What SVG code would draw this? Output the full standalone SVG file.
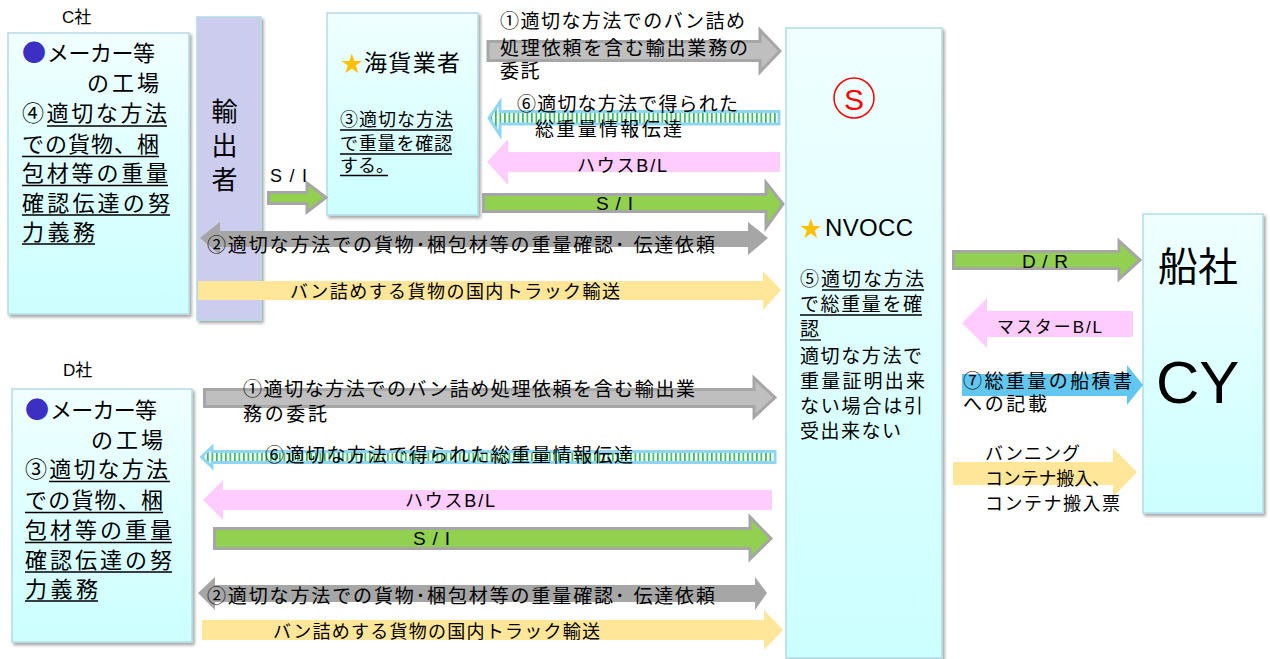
<svg xmlns="http://www.w3.org/2000/svg" width="1270" height="659" viewBox="0 0 1270 659">
<style>
.t{font-family:'Liberation Sans','Noto Sans CJK JP',sans-serif;fill:#000}
.j{font-family:'Noto Sans CJK JP','Liberation Sans',sans-serif}
.box{fill:url(#boxg);stroke:#b4dbe6;stroke-width:1.5;filter:url(#sh)}
.exp{fill:#ccccee;stroke:#b4dbe6;stroke-width:1.5;filter:url(#sh)}
.ul{stroke:#000;stroke-width:1.3}
.gl{fill:#bfbfbf;stroke:#a6a6a6;stroke-width:3}
.gd{fill:#a6a6a6}
.gr{fill:#92d050;stroke:#a6a6a6;stroke-width:3}
.pk{fill:#ffccff}
.yl{fill:#ffe699}
.bl{fill:#62c6ef}
.st{fill:url(#stripe);stroke:#8ed6f4;stroke-width:3}
.star{fill:#ffc000}
.dot{fill:#3c2fc4}
</style>
<defs>
<linearGradient id="boxg" x1="0" y1="0" x2="0" y2="1">
<stop offset="0" stop-color="#f0ffff"/>
<stop offset="1" stop-color="#ccffff"/>
</linearGradient>
<pattern id="stripe" width="4.5" height="4" patternUnits="userSpaceOnUse">
<rect width="4.5" height="4" fill="#ffffff"/>
<rect width="1.7" height="4" fill="#2fbf5f"/>
</pattern>
<filter id="sh" x="-10%" y="-10%" width="130%" height="130%">
<feDropShadow dx="2" dy="2.5" stdDeviation="1.5" flood-color="#000" flood-opacity="0.35"/>
</filter>
</defs>
<rect width="1270" height="659" fill="#ffffff"/>

<g id="labels">
<text class="t" x="62" y="23" font-size="17">C社</text>
<text class="t" x="63" y="376" font-size="17">D社</text>
</g>

<g id="node-c-factory">
<rect class="box" x="8" y="33" width="181" height="281"/>
<text class="j dot" x="22" y="61" font-size="24">●</text>
<text class="t" x="47" y="61" font-size="22" textLength="108" lengthAdjust="spacing">メーカー等</text>
<text class="t" x="87" y="91" font-size="22" textLength="72" lengthAdjust="spacing">の工場</text>
<text class="t" x="22" y="121" font-size="22" textLength="145" lengthAdjust="spacing">④適切な方法</text>
<text class="t" x="22" y="152" font-size="22" textLength="137" lengthAdjust="spacing">での貨物、梱</text>
<text class="t" x="22" y="181" font-size="22" textLength="146" lengthAdjust="spacing">包材等の重量</text>
<text class="t" x="22" y="211" font-size="22" textLength="148" lengthAdjust="spacing">確認伝達の努</text>
<text class="t" x="22" y="240" font-size="22" textLength="73" lengthAdjust="spacing">力義務</text>
<line class="ul" x1="47" y1="126" x2="167" y2="126"/>
<line class="ul" x1="22" y1="156.5" x2="159" y2="156.5"/>
<line class="ul" x1="22" y1="185.5" x2="168" y2="185.5"/>
<line class="ul" x1="22" y1="215" x2="170" y2="215"/>
<line class="ul" x1="22" y1="244" x2="95" y2="244"/>
</g>

<g id="node-exporter">
<rect class="exp" x="197" y="17" width="64" height="303"/>
<text class="t" x="222" y="98" font-size="26" writing-mode="vertical-rl" letter-spacing="8">輸出者</text>
</g>

<g id="node-forwarder">
<rect class="box" x="327" y="13" width="151" height="202"/>
<text class="j star" x="341" y="71" font-size="22">★</text>
<text class="t" x="364" y="71" font-size="23" textLength="96" lengthAdjust="spacing">海貨業者</text>
<text class="t" x="340" y="126" font-size="18" textLength="113" lengthAdjust="spacing">③適切な方法</text>
<text class="t" x="340" y="150" font-size="18" textLength="112" lengthAdjust="spacing">で重量を確認</text>
<text class="t" x="340" y="172" font-size="18">する。</text>
<line class="ul" x1="340" y1="130" x2="453" y2="130"/>
<line class="ul" x1="340" y1="154" x2="452" y2="154"/>
<line class="ul" x1="340" y1="175.5" x2="388" y2="175.5"/>
</g>

<g id="node-nvocc">
<rect class="box" x="786" y="28" width="156" height="630"/>
<circle cx="854" cy="98" r="20" fill="none" stroke="#ff0000" stroke-width="1.5"/>
<text x="854" y="110" font-size="30" text-anchor="middle" fill="#ff0000" font-family="'Liberation Sans',sans-serif">S</text>
<text class="j star" x="800" y="236" font-size="22">★</text>
<text class="t" x="825" y="236" font-size="24" textLength="88" lengthAdjust="spacing">NVOCC</text>
<text class="t" x="800" y="286" font-size="19" textLength="124" lengthAdjust="spacing">⑤適切な方法</text>
<text class="t" x="800" y="311" font-size="19" textLength="122" lengthAdjust="spacing">で総重量を確</text>
<text class="t" x="800" y="336" font-size="19">認</text>
<text class="t" x="800" y="363" font-size="19" textLength="122" lengthAdjust="spacing">適切な方法で</text>
<text class="t" x="800" y="388" font-size="19" textLength="125" lengthAdjust="spacing">重量証明出来</text>
<text class="t" x="800" y="413" font-size="19" textLength="123" lengthAdjust="spacing">ない場合は引</text>
<text class="t" x="800" y="438" font-size="19" textLength="101" lengthAdjust="spacing">受出来ない</text>
<line class="ul" x1="822" y1="290" x2="924" y2="290"/>
<line class="ul" x1="800" y1="315" x2="922" y2="315"/>
<line class="ul" x1="800" y1="340" x2="821" y2="340"/>
</g>

<g id="node-carrier">
<rect class="box" x="1143" y="214" width="120" height="299"/>
<text class="t" x="1158" y="281" font-size="40" textLength="80" lengthAdjust="spacing">船社</text>
<text x="1156" y="403" font-size="60" font-family="'Liberation Sans',sans-serif" fill="#000">CY</text>
</g>

<g id="node-d-factory">
<rect class="box" x="12" y="389" width="180" height="253"/>
<text class="j dot" x="25" y="418" font-size="24">●</text>
<text class="t" x="50" y="418" font-size="22" textLength="107" lengthAdjust="spacing">メーカー等</text>
<text class="t" x="91" y="448" font-size="22" textLength="72" lengthAdjust="spacing">の工場</text>
<text class="t" x="25" y="477" font-size="22" textLength="143" lengthAdjust="spacing">③適切な方法</text>
<text class="t" x="25" y="508" font-size="22" textLength="138" lengthAdjust="spacing">での貨物、梱</text>
<text class="t" x="25" y="538" font-size="22" textLength="147" lengthAdjust="spacing">包材等の重量</text>
<text class="t" x="25" y="568" font-size="22" textLength="147" lengthAdjust="spacing">確認伝達の努</text>
<text class="t" x="25" y="597" font-size="22" textLength="73" lengthAdjust="spacing">力義務</text>
<line class="ul" x1="49" y1="481.5" x2="170" y2="481.5"/>
<line class="ul" x1="25" y1="512.5" x2="163" y2="512.5"/>
<line class="ul" x1="25" y1="542.5" x2="172" y2="542.5"/>
<line class="ul" x1="25" y1="572" x2="172" y2="572"/>
<line class="ul" x1="25" y1="601" x2="98" y2="601"/>
</g>

<g id="connectors">
<!-- top row -->
<polygon class="gl" points="488,41.5 760,41.5 760,30 780,51 760,72 760,60.5 488,60.5"/>
<text class="t" x="500" y="28" font-size="19" textLength="245" lengthAdjust="spacing">①適切な方法でのバン詰め</text>
<text class="t" x="500" y="55" font-size="19" textLength="248" lengthAdjust="spacing">処理依頼を含む輸出業務の</text>
<text class="t" x="500" y="78" font-size="19" letter-spacing="1.5">委託</text>

<polygon class="st" points="489,118 500,102 500,111.5 779,111.5 779,124 500,124 500,135"/>
<text class="t" x="517" y="111" font-size="19" textLength="221" lengthAdjust="spacing">⑥適切な方法で得られた</text>
<text class="t" x="535" y="136" font-size="19" textLength="147" lengthAdjust="spacing">総重量情報伝達</text>

<polygon class="pk" points="487,162 508,139 508,152 780,152 780,172 508,172 508,185"/>
<text class="t" x="577" y="172" font-size="18" textLength="90" lengthAdjust="spacing">ハウスB/L</text>

<polygon class="gr" points="483.5,194.5 766,194.5 766,182.5 783,204 766,227.5 766,211.5 483.5,211.5"/>
<text class="t" x="596" y="210" font-size="19" textLength="37" lengthAdjust="spacing">S / I</text>

<polygon class="gr" points="268.5,192.5 307,192.5 307,183 326,197.5 307,212 307,203.5 268.5,203.5"/>
<text class="t" x="270" y="182" font-size="18" textLength="37" lengthAdjust="spacing">S / I</text>

<polygon class="gd" points="200,238 220,222 220,231 748,231 748,222 768,238 748,255 748,247 220,247 220,255"/>
<text class="t" x="207" y="252" font-size="19" textLength="508" lengthAdjust="spacing">②適切な方法での貨物･梱包材等の重量確認･ 伝達依頼</text>

<polygon class="yl" points="198,281 763,281 763,271 781,290 763,310 763,300 198,300"/>
<text class="t" x="290" y="298" font-size="18" textLength="330" lengthAdjust="spacing">バン詰めする貨物の国内トラック輸送</text>

<!-- right side -->
<polygon class="gr" points="953.5,251.5 1119,251.5 1119,241 1140,260 1119,279 1119,268.5 953.5,268.5"/>
<text class="t" x="1022" y="268" font-size="19" textLength="46" lengthAdjust="spacing">D / R</text>

<polygon class="pk" points="962,323 987,298 987,311 1133,311 1133,337 987,337 987,348"/>
<text class="t" x="997" y="333" font-size="17" textLength="105" lengthAdjust="spacing">マスターB/L</text>

<polygon class="bl" points="962,374 1127,374 1127,365 1143,385 1127,405 1127,396 962,396"/>
<text class="t" x="963" y="388" font-size="19" textLength="169" lengthAdjust="spacing">⑦総重量の船積書</text>
<text class="t" x="963" y="411" font-size="19" textLength="84" lengthAdjust="spacing">への記載</text>

<polygon class="yl" points="953,462 1113,462 1113,448 1137,472 1113,497 1113,485 953,485"/>
<text class="t" x="985" y="460" font-size="18" textLength="95" lengthAdjust="spacing">バンニング</text>
<text class="t" x="985" y="485" font-size="18" textLength="125" lengthAdjust="spacing">コンテナ搬入、</text>
<text class="t" x="985" y="510" font-size="18" textLength="135" lengthAdjust="spacing">コンテナ搬入票</text>

<!-- bottom row -->
<polygon class="gl" points="204.5,389.5 754,389.5 754,378 775,397.5 754,417 754,406.5 204.5,406.5"/>
<text class="t" x="243" y="396" font-size="19" textLength="452" lengthAdjust="spacing">①適切な方法でのバン詰め処理依頼を含む輸出業</text>
<text class="t" x="243" y="421" font-size="19" textLength="84" lengthAdjust="spacing">務の委託</text>

<polygon class="st" points="201.5,457 212,447 212,451.5 775,451.5 775,462.5 212,462.5 212,467"/>
<text class="t" x="265" y="462" font-size="19" textLength="368" lengthAdjust="spacing">⑥適切な方法で得られた総重量情報伝達</text>

<polygon class="pk" points="203,500 223,480 223,490 772,490 772,510 223,510 223,520"/>
<text class="t" x="405" y="507" font-size="18" textLength="90" lengthAdjust="spacing">ハウスB/L</text>

<polygon class="gr" points="214.5,528.5 750,528.5 750,517 771,538.5 750,559 750,548.5 214.5,548.5"/>
<text class="t" x="413" y="545" font-size="19" textLength="37" lengthAdjust="spacing">S / I</text>

<polygon class="gd" points="198,593 215,577 215,585 755,585 755,577 767,593 755,610 755,602 215,602 215,610"/>
<text class="t" x="207" y="603" font-size="19" textLength="508" lengthAdjust="spacing">②適切な方法での貨物･梱包材等の重量確認･ 伝達依頼</text>

<polygon class="yl" points="202,620 764,620 764,610 783,630 764,650 764,640 202,640"/>
<text class="t" x="273" y="638" font-size="18" textLength="327" lengthAdjust="spacing">バン詰めする貨物の国内トラック輸送</text>
</g>
</svg>
